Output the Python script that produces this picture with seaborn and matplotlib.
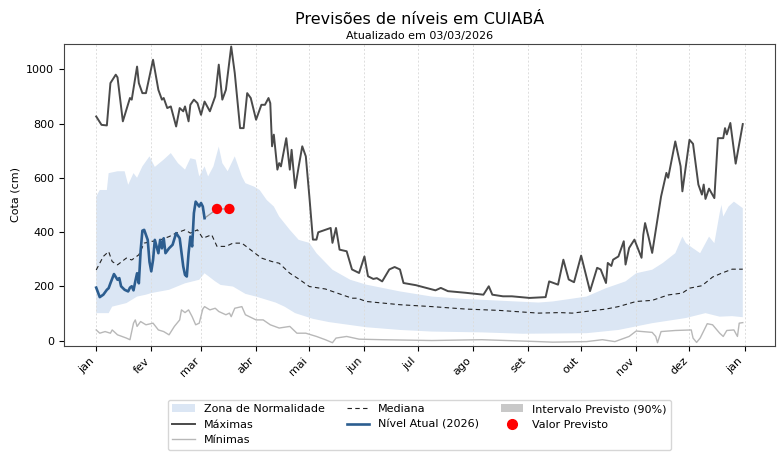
import numpy as np
import pandas as pd
import matplotlib
matplotlib.use("Agg")
import matplotlib.pyplot as plt
import seaborn as sns
from matplotlib.patches import Patch
from matplotlib.lines import Line2D

# ---------------- data (day of year, cm) ----------------
max_days = [0,3,6,8,11,12,15,19,20,23,24,26,28,32,35,37,38,40,42,45,47,49,50,52,53,55,57,59,61,64,67,69,71,73,76,78,81,83,85,87,90,93,95,97,98,99,100,102,103,104,107,109,110,112,114,116,118,120,122,124,125,132,133,135,137,141,144,148,151,153,156,158,161,165,168,171,173,180,191,194,198,208,218,221,223,229,234,244,253,255,260,263,266,269,273,278,282,284,287,288,290,291,294,297,298,300,303,307,308,309,311,313,318,321,322,326,329,330,334,336,339,341,342,343,345,348,350,353,354,355,357,360,364]
max_vals = [826,795,793,949,980,970,808,894,888,1010,949,912,912,1035,924,888,894,857,863,789,857,845,863,808,869,888,875,832,881,845,900,1017,888,924,1084,986,783,783,912,894,814,869,869,894,875,716,759,630,654,642,746,630,703,562,642,716,679,531,372,372,399,415,360,415,335,329,262,249,310,237,227,230,218,262,271,262,212,204,185,194,182,176,169,200,169,163,163,157,160,218,206,298,225,215,313,182,268,262,212,286,275,298,310,366,280,341,372,305,390,433,380,323,531,618,600,734,642,550,740,725,575,538,575,522,560,525,746,746,783,760,802,652,798]

min_days = [0,2,5,8,9,12,17,19,21,22,23,25,28,32,35,38,41,44,47,48,50,52,54,56,58,60,61,64,67,69,73,75,76,78,82,84,90,94,98,103,109,113,118,124,129,133,135,141,148,161,189,217,249,257,276,285,292,300,304,313,315,316,318,326,335,336,338,340,344,347,351,353,355,359,361,362,364]
min_vals = [39,27,33,27,39,21,9,3,64,76,52,70,58,64,39,33,21,52,76,113,103,113,88,58,64,116,125,113,119,107,95,101,88,119,125,95,76,76,58,46,52,27,27,15,3,-8,9,15,5,3,0,3,-4,-6,-4,3,-4,15,35,30,15,-8,33,37,39,9,-7,9,62,58,27,15,37,39,15,64,66]

med_days = [0,4,7,9,12,17,20,24,27,31,36,41,45,50,53,57,60,65,68,73,77,82,87,93,99,103,109,114,120,129,144,147,152,171,189,208,227,249,261,268,287,294,304,313,322,330,334,341,347,352,358,364]
med_vals = [260,310,328,291,279,304,297,316,359,365,371,383,396,408,396,408,377,390,347,347,359,359,334,304,291,285,248,227,199,190,156,156,144,132,125,116,111,101,103,101,116,125,144,148,168,175,193,202,234,248,263,263]

zone_hi_days = [0,2,6,7,12,16,18,21,23,26,30,33,38,42,46,50,53,56,58,61,63,66,69,71,74,78,82,84,89,92,96,100,103,109,114,120,124,133,143,152,171,189,208,227,249,257,276,287,298,304,313,319,326,330,332,336,340,345,348,351,352,353,356,359,364]
zone_hi_vals = [531,555,555,617,624,624,574,617,600,642,679,640,667,691,654,630,672,667,605,642,605,642,715,654,624,679,605,580,567,555,518,494,457,408,371,360,322,261,224,206,181,162,153,147,140,144,162,193,218,248,261,286,322,383,359,340,322,383,359,470,500,457,494,512,488]

zone_lo_days = [0,7,9,17,23,28,31,41,50,58,61,67,70,77,84,90,96,101,106,112,122,131,152,171,189,217,240,276,294,313,332,343,351,358,364]
zone_lo_vals = [101,101,125,138,162,169,175,187,211,224,248,218,205,199,172,162,150,140,125,101,80,68,49,39,33,30,25,27,39,64,83,101,88,90,86]

cur_days = [0,2,4,6,7,8,10,12,13,14,16,18,19,20,21,22,23,24,25,26,27,29,30,31,32,33,35,36,37,38,39,41,43,45,47,49,50,51,52,53,54,55,56,58,59,60,61]
cur_vals = [195,160,169,187,193,211,245,224,230,200,187,181,195,200,185,218,248,211,330,405,408,371,290,255,297,371,322,371,340,377,322,340,353,396,377,273,242,236,322,383,347,470,512,494,507,494,451]

fc_days = [68, 75]
fc_vals = [485, 485]

month_labels = ["jan", "fev", "mar", "abr", "mai", "jun", "jul", "ago", "set", "out", "nov", "dez", "jan"]

BASE = pd.Timestamp("2025-01-01")


def to_dates(days):
    return (BASE + pd.to_timedelta(np.asarray(days), unit="D")).to_numpy()


plt.rcParams["font.family"] = ["DejaVu Sans"]

fig, ax = plt.subplots(figsize=(7.79, 4.54), dpi=100)
fig.subplots_adjust(left=0.082, right=0.995, top=0.903, bottom=0.238)

df_max = pd.DataFrame({"data": to_dates(max_days), "cota": max_vals})
df_min = pd.DataFrame({"data": to_dates(min_days), "cota": min_vals})
df_med = pd.DataFrame({"data": to_dates(med_days), "cota": med_vals})
df_cur = pd.DataFrame({"data": to_dates(cur_days), "cota": cur_vals})
df_fc = pd.DataFrame({"data": to_dates(fc_days), "cota": fc_vals})

sns.lineplot(data=df_max, x="data", y="cota", ax=ax, color="#4a4a4a", lw=1.4, zorder=3)
sns.lineplot(data=df_min, x="data", y="cota", ax=ax, color="#b8b8b8", lw=1.0, zorder=3)
sns.lineplot(data=df_med, x="data", y="cota", ax=ax, color="#222222", lw=0.8,
             linestyle=(0, (4, 3)), zorder=3)

# zona de normalidade
zx = np.concatenate([to_dates(zone_hi_days), to_dates(zone_lo_days)[::-1]])
zy = np.concatenate([zone_hi_vals, zone_lo_vals[::-1]])
ax.fill(zx, zy, color="#dbe6f4", lw=0, zorder=1)

# connector to forecast
df_conn = pd.DataFrame({"data": np.concatenate([to_dates(cur_days[-1:]), to_dates(fc_days)]),
                        "cota": cur_vals[-1:] + fc_vals})
sns.lineplot(data=df_conn, x="data", y="cota", ax=ax, color="#9a9a9a", lw=0.9, zorder=3)

sns.lineplot(data=df_cur, x="data", y="cota", ax=ax, color="#2c5d8f", lw=1.9, zorder=4)
sns.scatterplot(data=df_fc, x="data", y="cota", ax=ax, color="red", s=55,
                edgecolor="none", zorder=5)

ticks = pd.date_range("2025-01-01", "2026-01-01", freq="MS")
ax.set_xticks(ticks)
ax.set_xticklabels(month_labels, rotation=45, ha="right", fontsize=8)
ax.set_yticks([0, 200, 400, 600, 800, 1000])
ax.tick_params(axis="y", labelsize=8)
ax.set_ylim(-20, 1093)
ax.grid(axis="x", linestyle=(0, (2, 2)), color="#dddddd", lw=0.7)
ax.grid(axis="y", visible=False)
ax.set_xlabel("")
ax.set_ylabel("Cota (cm)", fontsize=8)
for s in ax.spines.values():
    s.set_color("#444444")

fig.text(0.5385, 0.958, "Previsões de níveis em CUIABÁ", ha="center", va="center", fontsize=11.5)
fig.text(0.5385, 0.921, "Atualizado em 03/03/2026", ha="center", va="center", fontsize=8)

handles = [
    Patch(facecolor="#dbe6f4", edgecolor="none", label="Zona de Normalidade"),
    Line2D([], [], color="#4a4a4a", lw=1.4, label="Máximas"),
    Line2D([], [], color="#b8b8b8", lw=1.0, label="Mínimas"),
    Line2D([], [], color="#222222", lw=0.8, linestyle=(0, (4, 3)), label="Mediana"),
    Line2D([], [], color="#2c5d8f", lw=1.9, label="Nível Atual (2026)"),
    Patch(facecolor="#c8c8c8", edgecolor="none", label="Intervalo Previsto (90%)"),
    Line2D([], [], color="red", marker="o", lw=0, markersize=7, label="Valor Previsto"),
]
ax.legend(handles=handles, loc="upper center", bbox_to_anchor=(0.5, -0.16), ncol=3,
          fontsize=8, frameon=True, handlelength=2.0, columnspacing=2.0)

fig.savefig("out.png", dpi=100)
